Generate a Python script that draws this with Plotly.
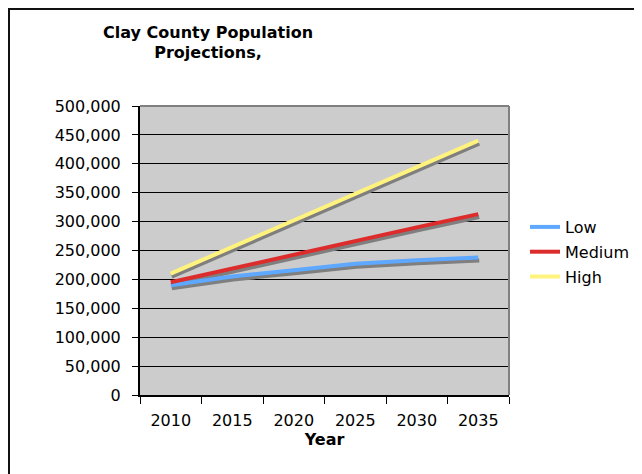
import plotly.graph_objects as go

# ---- data ----
years = ["2010", "2015", "2020", "2025", "2030", "2035"]
low = [190000, 205000, 216000, 227000, 233000, 238000]
medium = [195000, 219000, 243000, 266000, 290000, 313000]
high = [210000, 256000, 302000, 348000, 394000, 440000]
series_names = ["Low", "Medium", "High"]
series_values = [low, medium, high]
series_colors = ["#5EA8FF", "#DD2C2C", "#FFF37E"]

# ---- layout helpers (page pixel -> paper) ----
OFF = 8                      # default page body margin
W, H = 642 - OFF, 474 - OFF  # figure size so it fits the window
ML, MR, MT, MB = 122, 115, 88, 61
PW, PH = W - ML - MR, H - MT - MB


def fx(px):
    return (px - OFF - ML) / PW


def fy(py):
    return (H - MB - (py - OFF)) / PH


X0, X1, YT, YB = 140, 509, 106, 395
SDX, SDY = 1, 3
FONT = "DejaVu Sans"

fig = go.Figure()

# base subplot (grid / axes)
fig.add_trace(go.Scatter(x=years, y=[None] * len(years), xaxis="x", yaxis="y",
                         mode="lines", showlegend=False, hoverinfo="skip"))

# shadows
for vals in series_values:
    fig.add_trace(go.Scatter(x=years, y=vals, xaxis="x2", yaxis="y2", mode="lines",
                             line=dict(color="#7F7F7F", width=4),
                             showlegend=False, hoverinfo="skip"))

# main lines
for name, vals, col in zip(series_names, series_values, series_colors):
    fig.add_trace(go.Scatter(x=years, y=vals, xaxis="x3", yaxis="y3", mode="lines",
                             name=name, legendgroup=name,
                             line=dict(color=col, width=4)))

main_xdom = [fx(X0), fx(X1)]
main_ydom = [fy(YB), fy(YT)]
sh_xdom = [fx(X0 + SDX), fx(X1 + SDX)]
sh_ydom = [fy(YB + SDY), fy(YT + SDY)]

cat_range = [-0.5, len(years) - 0.5]
y_range = [0, 500000]

hidden_x = dict(type="category", categoryarray=years, categoryorder="array",
                range=cat_range, visible=False, fixedrange=True)
hidden_y = dict(range=y_range, visible=False, fixedrange=True)

fig.update_layout(
    width=W, height=H,
    margin=dict(l=ML, r=MR, t=MT, b=MB, pad=0, autoexpand=False),
    paper_bgcolor="white",
    plot_bgcolor="rgba(0,0,0,0)",
    font=dict(family=FONT, size=16, color="black"),
    title=dict(text="<b>Clay County Population<br>Projections,</b>",
               x=(208 - OFF) / W, xref="container", xanchor="center",
               y=1 - (37.5 - OFF) / H, yref="container", yanchor="middle",
               font=dict(family=FONT, size=16, color="black")),
    xaxis=dict(type="category", categoryarray=years, categoryorder="array",
               range=cat_range, domain=main_xdom, anchor="y",
               showline=True, linecolor="black", linewidth=2,
               ticks="outside", ticklen=7, tickcolor="black", tickwidth=1,
               tickson="boundaries", showgrid=False,
               ticklabelstandoff=10,
               tickfont=dict(family=FONT, size=16, color="black"),
               title=dict(text="<b>Year</b>", standoff=3,
                          font=dict(family=FONT, size=16, color="black")),
               fixedrange=True),
    yaxis=dict(range=y_range, domain=main_ydom, anchor="x",
               dtick=50000, tickformat=",",
               showline=True, linecolor="black", linewidth=2,
               ticks="outside", ticklen=6, tickcolor="black", tickwidth=1,
               showgrid=True, gridcolor="black", gridwidth=1,
               zeroline=False, ticklabelstandoff=8,
               tickfont=dict(family=FONT, size=16, color="black"),
               fixedrange=True),
    xaxis2=dict(hidden_x, domain=sh_xdom, anchor="y2"),
    yaxis2=dict(hidden_y, domain=sh_ydom, anchor="x2"),
    xaxis3=dict(hidden_x, domain=main_xdom, anchor="y3"),
    yaxis3=dict(hidden_y, domain=main_ydom, anchor="x3"),
    legend=dict(x=fx(525), xanchor="left", y=fy(252), yanchor="middle",
                xref="paper", yref="paper",
                bgcolor="rgba(0,0,0,0)", borderwidth=0,
                tracegroupgap=1, traceorder="grouped",
                font=dict(family=FONT, size=16, color="black")),
    showlegend=True,
    shapes=[
        # plot area fill
        dict(type="rect", xref="paper", yref="paper",
             x0=fx(X0), x1=fx(X1), y0=fy(YB), y1=fy(YT),
             fillcolor="#CCCCCC", line=dict(width=0), layer="below"),
        # plot area top / right border
        dict(type="line", xref="paper", yref="paper",
             x0=fx(X0), x1=fx(X1), y0=fy(YT), y1=fy(YT),
             line=dict(color="#808080", width=2), layer="above"),
        dict(type="line", xref="paper", yref="paper",
             x0=fx(X1), x1=fx(X1), y0=fy(YB), y1=fy(YT),
             line=dict(color="#808080", width=2), layer="above"),
        # chart border
        dict(type="rect", xref="paper", yref="paper",
             x0=fx(9), x1=fx(680), y0=fy(500), y1=fy(9),
             line=dict(color="#111111", width=2), fillcolor="rgba(0,0,0,0)",
             layer="above"),
    ],
)

fig.write_html("out.html")
